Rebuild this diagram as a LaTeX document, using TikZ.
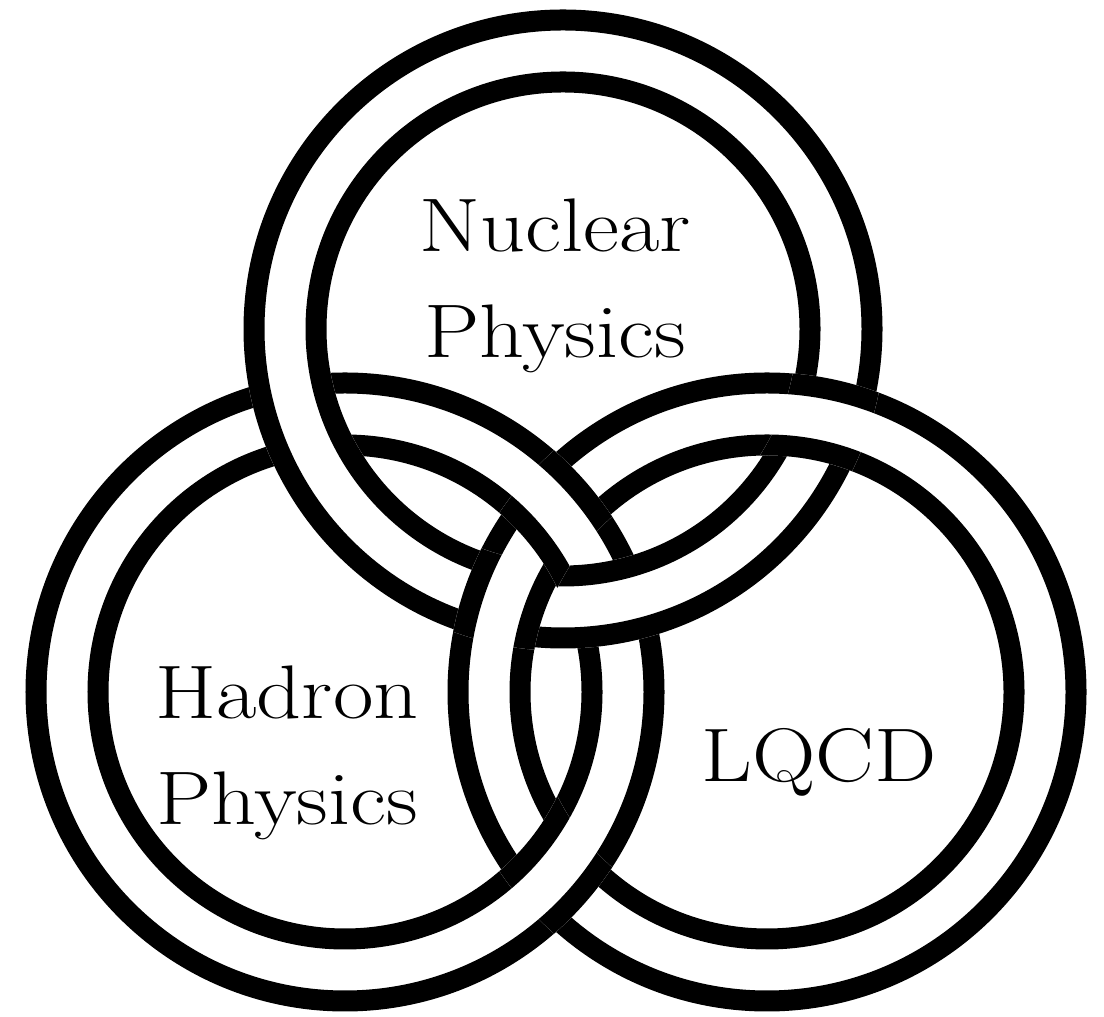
\documentclass[tikz,border=0pt]{standalone}
\usepackage{fontspec}
\setmainfont{Latin Modern Roman}[FakeStretch=1.16]
\usepackage{tikz}
\usetikzlibrary{positioning}
\definecolor{ringblack}{RGB}{0,0,0}
% one ring: white band with two black rims
\newcommand{\ringband}[1]{%
  \fill[white,even odd rule] (#1) circle (319.5) (#1) circle (236.5);
  \draw[ringblack,line width=0.525cm] (#1) circle (309) (#1) circle (247);
}

\begin{document}
\begin{tikzpicture}[x=0.025cm,y=0.025cm,
  lbl/.style={font=\fontsize{54}{75.1}\selectfont,align=center,inner sep=0pt}]
  \fill[white] (0,0) rectangle (1104,1017);
  \useasboundingbox (0,0) rectangle (1104,1017);
  \coordinate (N) at (563,688);
  \coordinate (H) at (345,325);
  \coordinate (Q) at (767,325);
  % base order, nuclear ring on top
  \ringband{H} \ringband{Q} \ringband{N}
  % lqcd ring passes over nuclear ring
  \begin{scope}[even odd rule]
    \clip (N) circle (322) (N) circle (234);
    \ringband{Q}
  \end{scope}
  % hadron ring passes over lqcd ring
  \begin{scope}[even odd rule]
    \clip (Q) circle (322) (Q) circle (234);
    \ringband{H}
  \end{scope}
  \node[lbl] (nuclear) at (555,731) {Nuclear\\Physics};
  \node[lbl] (hadron) at (287,264) {Hadron\\Physics};
  \node[lbl,anchor=base] (lqcd) at (819,235) {LQCD};
\end{tikzpicture}
\end{document}
